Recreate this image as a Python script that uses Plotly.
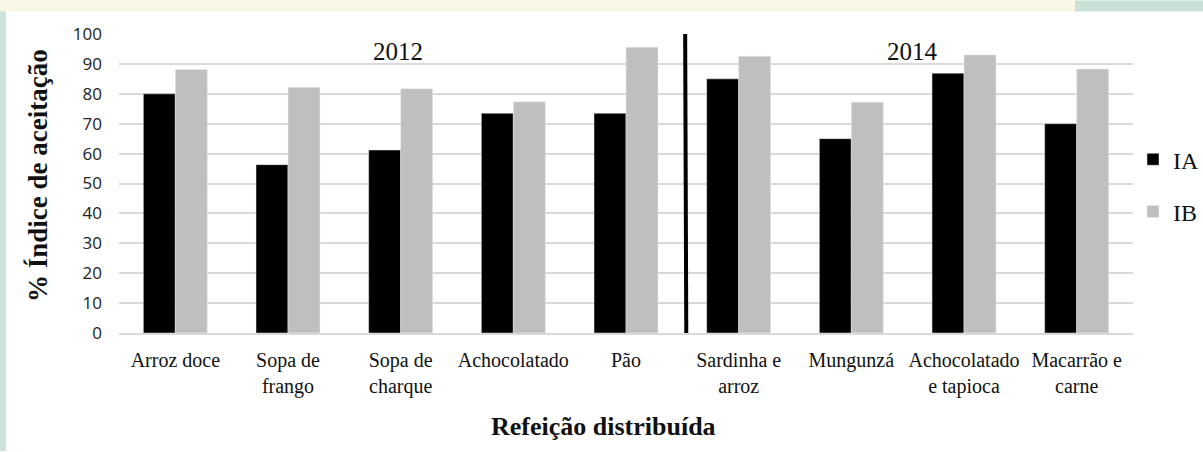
import plotly.graph_objects as go

# Meals served and acceptance indices (%)
meals = [
    "Arroz doce",
    "Sopa de<br>frango",
    "Sopa de<br>charque",
    "Achocolatado",
    "Pão",
    "Sardinha e<br>arroz",
    "Mungunzá",
    "Achocolatado<br>e tapioca",
    "Macarrão e<br>carne",
]
ia_values = [80, 56.3, 61.2, 73.5, 73.5, 85, 65, 86.9, 70]
ib_values = [88.1, 82.2, 81.7, 77.3, 95.6, 92.6, 77.2, 93, 88.3]
y_ticks = [0, 10, 20, 30, 40, 50, 60, 70, 80, 90, 100]
year_labels = ["2012", "2014"]

W, H = 1203, 452
ML, MR, MT, MB = 119, 70, 33.5, 118.5
PW = W - ML - MR
PH = H - MT - MB


def px_x(px):
    return (px - ML) / PW


def px_y(py):
    return (H - MB - py) / PH


SERIF = "Liberation Serif"

fig = go.Figure()
fig.add_trace(go.Bar(x=meals, y=ia_values, name="IA", marker_color="#000000",
                     legendgroup="ia"))
fig.add_trace(go.Bar(x=meals, y=ib_values, name="IB", marker_color="#bfbfbf",
                     legendgroup="ib"))

shapes = [
    # separator between the 2012 and 2014 meals
    dict(type="line", xref="x", yref="y", x0=4.525, x1=4.535, y0=101.2, y1=0,
         line=dict(color="#000000", width=4), layer="above"),
    # decorative page edges
    dict(type="rect", xref="paper", yref="paper", x0=px_x(0), x1=px_x(6),
         y0=px_y(H), y1=px_y(0), fillcolor="#cce2da", line_width=0),
    dict(type="rect", xref="paper", yref="paper", x0=px_x(0), x1=px_x(1075),
         y0=px_y(11), y1=px_y(0), fillcolor="#f9f6e3", line_width=0),
    dict(type="rect", xref="paper", yref="paper", x0=px_x(1075), x1=px_x(W),
         y0=px_y(11), y1=px_y(0), fillcolor="#c9e0d7", line_width=0),
]

annotations = [
    dict(text=year_labels[0], x=1.98, y=94.2, xref="x", yref="y", showarrow=False,
         font=dict(family=SERIF, size=25, color="#111111")),
    dict(text=year_labels[1], x=6.54, y=94.2, xref="x", yref="y", showarrow=False,
         font=dict(family=SERIF, size=25, color="#111111")),
    dict(text="<b>Refeição distribuída</b>", x=px_x(603), y=px_y(427),
         xref="paper", yref="paper", showarrow=False, yanchor="middle",
         font=dict(family=SERIF, size=26, color="#111111")),
    dict(text="<b>% Índice de aceitação</b>", x=px_x(38), y=px_y(176),
         xref="paper", yref="paper", showarrow=False, textangle=-90,
         xanchor="center", yanchor="middle",
         font=dict(family=SERIF, size=27, color="#111111")),
]

fig.update_layout(
    width=W, height=H,
    margin=dict(l=ML, r=MR, t=MT, b=MB, pad=0, autoexpand=False),
    paper_bgcolor="#ffffff",
    plot_bgcolor="#ffffff",
    barmode="group",
    bargap=0.432,
    bargroupgap=0,
    shapes=shapes,
    annotations=annotations,
    showlegend=True,
    legend=dict(x=px_x(1133), y=px_y(137), xanchor="left", yanchor="top",
                font=dict(family=SERIF, size=24, color="#111111"),
                tracegroupgap=18, bgcolor="rgba(0,0,0,0)",
                itemclick=False),
    xaxis=dict(
        showgrid=False, showline=True, linecolor="#d9d9d9", linewidth=2,
        ticks="", tickfont=dict(family=SERIF, size=20, color="#111111"),
        ticklabelstandoff=8, tickangle=0, fixedrange=True,
    ),
    yaxis=dict(
        range=[0, 100], tickvals=y_ticks, showgrid=True, gridcolor="#d9d9d9",
        gridwidth=2, zeroline=False, showline=False, ticks="",
        tickfont=dict(family="Open Sans", size=17, color="#222222"),
        ticklabelstandoff=16, fixedrange=True,
    ),
)

fig.write_html("out.html")
